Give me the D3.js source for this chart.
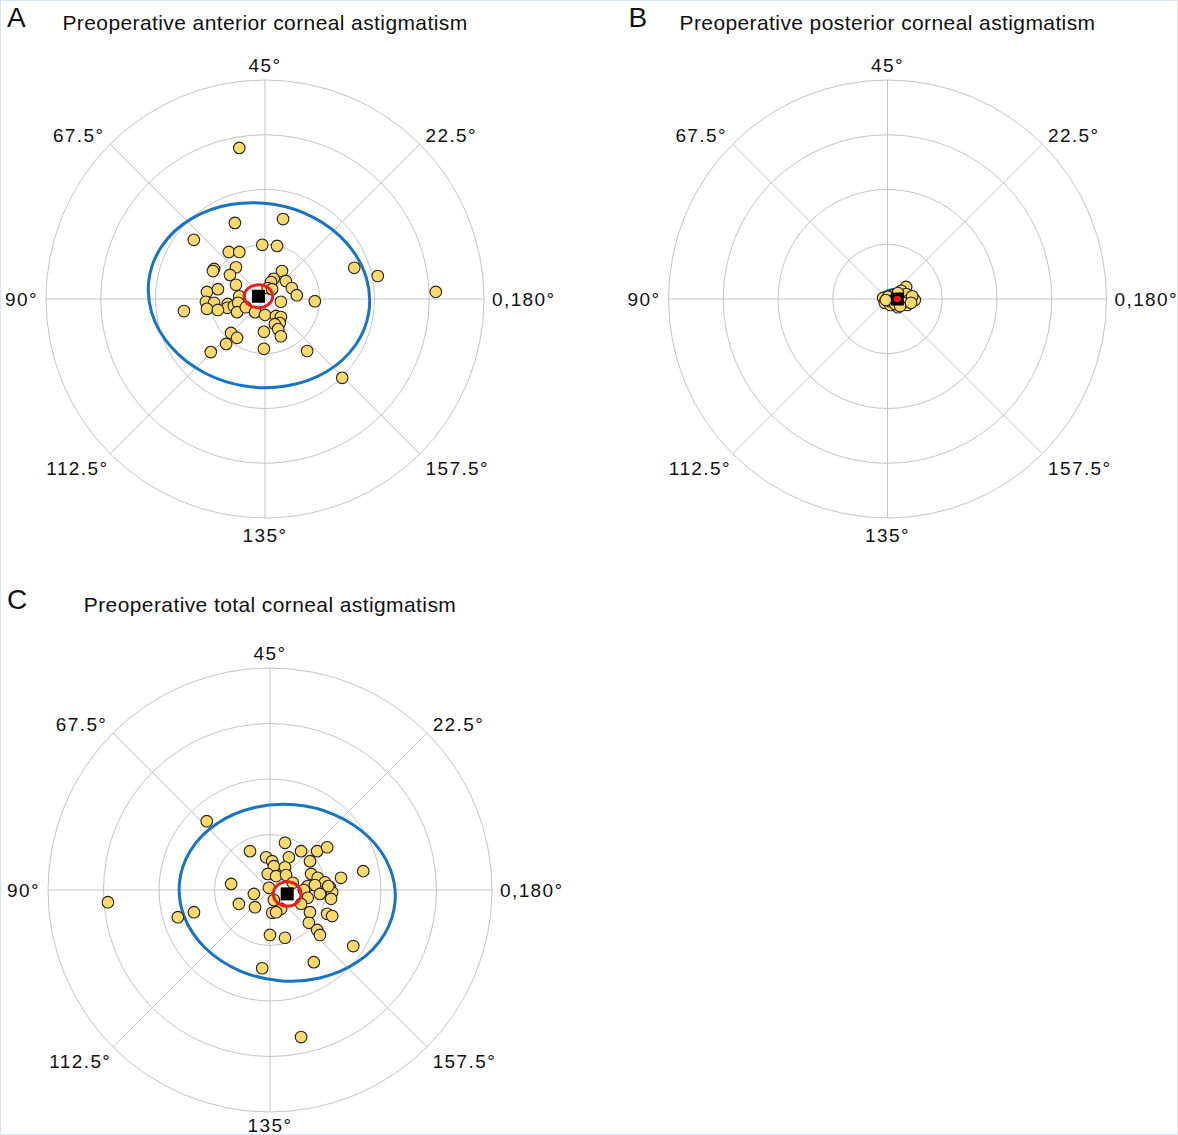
<!DOCTYPE html>
<html>
<head>
<meta charset="utf-8">
<script src="https://cdn.jsdelivr.net/npm/d3@7"></script>
<style>
  body { margin: 0; background: #fff; }
  text { font-family: "Liberation Sans", Arial, sans-serif; fill: #111; }
</style>
</head>
<body>
<div id="chart"></div>
<script>
var width = 1178,
    height = 1135;

// doubled-angle vectors, dioptres [x, y]
var anteriorPoints = [
  [-0.47, 2.76], [-0.55, 1.39], [0.33, 1.46], [-1.30, 1.08], [-0.05, 0.99], [0.22, 0.97],
  [-0.66, 0.86], [-0.47, 0.86], [-0.93, 0.55], [-0.95, 0.51], [-0.53, 0.58], [-0.64, 0.44],
  [0.31, 0.51], [0.16, 0.37], [0.11, 0.31], [0.38, 0.33], [-0.53, 0.26], [-1.06, 0.13],
  [-0.86, 0.18], [0.49, 0.20], [0.58, 0.07], [0.05, 0.20], [-0.47, 0.05], [-1.08, -0.05],
  [-0.93, -0.07], [-0.68, -0.09], [-0.69, -0.16], [-0.57, -0.13], [-0.49, -0.07], [-0.51, -0.24],
  [-1.06, -0.18], [-0.86, -0.20], [-0.35, -0.15], [-0.18, -0.24], [0.00, -0.29], [0.20, -0.31],
  [0.29, -0.05], [0.29, -0.33], [0.27, -0.44], [0.18, -0.46], [0.24, -0.55], [0.29, -0.68],
  [-0.02, -0.60], [-0.62, -0.62], [-0.51, -0.71], [-0.71, -0.82], [-0.99, -0.97], [-0.02, -0.91],
  [0.77, -0.95], [0.91, -0.04], [1.63, 0.57], [2.06, 0.42], [1.41, -1.44], [3.12, 0.13],
  [-1.48, -0.22], [0.13, 0.18]
];

var posteriorPoints = [
  [0.34, 0.22], [0.25, 0.15], [0.34, 0.09], [-0.08, 0.02], [-0.05, -0.07], [0.05, -0.11],
  [0.19, -0.15], [0.36, -0.11], [0.50, -0.02], [0.39, -0.02], [0.10, 0.07], [0.19, 0.11],
  [0.01, 0.04], [0.45, 0.05], [0.05, -0.04], [0.28, -0.07], [0.14, -0.09], [0.23, -0.13],
  [-0.03, -0.02], [0.43, -0.07]
];

var totalPoints = [
  [-1.14, 1.24], [0.27, 0.85], [-0.36, 0.70], [0.56, 0.70], [0.85, 0.70], [1.03, 0.77],
  [-0.07, 0.59], [0.04, 0.52], [0.34, 0.59], [0.72, 0.52], [0.07, 0.43], [0.27, 0.41],
  [-0.04, 0.29], [0.11, 0.25], [0.29, 0.27], [0.74, 0.29], [0.86, 0.22], [0.99, 0.14],
  [1.08, 0.05], [1.12, -0.04], [1.28, 0.22], [1.68, 0.34], [-0.70, 0.11], [-0.29, -0.07],
  [-0.02, 0.04], [0.41, 0.13], [0.68, 0.07], [0.81, 0.09], [1.05, 0.07], [0.61, 0.00],
  [0.90, -0.07], [1.10, -0.16], [0.68, -0.14], [0.56, -0.25], [-0.56, -0.25], [-0.27, -0.31],
  [0.07, -0.18], [0.20, -0.34], [0.04, -0.41], [0.11, -0.40], [0.72, -0.40], [1.03, -0.43],
  [1.12, -0.47], [0.70, -0.59], [0.85, -0.72], [0.90, -0.81], [0.00, -0.81], [0.27, -0.86],
  [1.50, -1.01], [0.79, -1.30], [-0.14, -1.41], [-1.37, -0.40], [-1.66, -0.49], [-2.92, -0.22],
  [0.56, -2.65]
];

// centroid [x, y]
var anteriorMean = [-0.12, 0.05],
    posteriorMean = [0.18, 0.00],
    totalMean = [0.31, -0.07];

// ellipses: [cx, cy, semi-axis a, semi-axis b, rotation deg]
var anteriorCentroidEllipse = [-0.12, 0.05, 0.26, 0.21, 0],
    anteriorDataEllipse = [-0.11, 0.07, 2.03, 1.68, -9];
var posteriorCentroidEllipse = [0.18, 0.00, 0.04, 0.03, 0],
    posteriorDataEllipse = [0.17, 0.02, 0.30, 0.16, 0];
var totalCentroidEllipse = [0.31, -0.07, 0.25, 0.22, 0],
    totalDataEllipse = [0.31, -0.05, 1.95, 1.59, -5];

var ringValues = [1, 2, 3, 4];
var axisLabels = ["0,180°", "22.5°", "45°", "67.5°", "90°", "112.5°", "135°", "157.5°"];

var svg = d3.select("#chart").append("svg")
    .attr("width", width)
    .attr("height", height);

svg.append("rect")
    .attr("x", 0.5).attr("y", 0.5)
    .attr("width", width - 1).attr("height", height - 1)
    .attr("fill", "#fff")
    .attr("stroke", "#d5e5f4");

function drawPanel(letter, title, cx, cy, R, headY, points, mean, ciEllipse, dataEllipse) {
    var g = svg.append("g");

    var r = d3.scaleLinear().domain([0, 4]).range([0, R]);
    var x = d3.scaleLinear().domain([-4, 4]).range([cx - R, cx + R]);
    var y = d3.scaleLinear().domain([-4, 4]).range([cy + R, cy - R]);

    g.append("text")
        .attr("x", letter === "B" ? cx - 259 : 7)
        .attr("y", headY - 3)
        .style("font-size", "28px")
        .text(letter);

    g.append("text")
        .attr("x", cx)
        .attr("y", headY)
        .style("text-anchor", "middle")
        .style("font-size", "21px")
        .style("letter-spacing", "0.4px")
        .text(title);

    g.selectAll(".ring")
        .data(ringValues)
        .enter().append("circle")
        .attr("class", "ring")
        .attr("cx", cx).attr("cy", cy)
        .attr("r", function(d) { return r(d); })
        .attr("fill", "none")
        .attr("stroke", "#c4c4c4");

    g.selectAll(".spoke")
        .data(axisLabels)
        .enter().append("line")
        .attr("class", "spoke")
        .attr("x1", cx).attr("y1", cy)
        .attr("x2", function(d, i) { return cx + r(4) * Math.cos(i * Math.PI / 4); })
        .attr("y2", function(d, i) { return cy - r(4) * Math.sin(i * Math.PI / 4); })
        .attr("stroke", "#c4c4c4");

    g.selectAll(".axis-label")
        .data(axisLabels)
        .enter().append("text")
        .attr("class", "axis-label")
        .attr("x", function(d, i) {
            var c = Math.cos(i * Math.PI / 4);
            return cx + (R + 8) * c + (i === 5 ? 4 : 0);
        })
        .attr("y", function(d, i) {
            var s = Math.sin(i * Math.PI / 4);
            var yy = cy - (R + 8) * s;
            if (s < -0.1) yy += 15.5;
            else if (s > 0.9) yy += 0;
            else if (s > 0.1) yy += 3.8;
            else yy += 6.6;
            return Math.min(yy, height - 3);
        })
        .style("text-anchor", function(d, i) {
            var c = Math.cos(i * Math.PI / 4);
            return c > 0.1 ? "start" : (c < -0.1 ? "end" : "middle");
        })
        .style("font-size", "19px")
        .style("letter-spacing", "1.4px")
        .text(function(d) { return d; });

    g.append("ellipse")
        .attr("transform", "translate(" + x(dataEllipse[0]) + "," + y(dataEllipse[1]) + ") rotate(" + (-dataEllipse[4]) + ")")
        .attr("rx", r(dataEllipse[2]))
        .attr("ry", r(dataEllipse[3]))
        .attr("fill", "none")
        .attr("stroke", "#1673c5")
        .attr("stroke-width", 3);

    g.selectAll(".point")
        .data(points)
        .enter().append("circle")
        .attr("class", "point")
        .attr("cx", function(d) { return x(d[0]); })
        .attr("cy", function(d) { return y(d[1]); })
        .attr("r", 5.8)
        .attr("fill", "#fdd86b")
        .attr("stroke", "#222")
        .attr("stroke-width", 1.1);

    g.append("rect")
        .attr("x", x(mean[0]) - 6.5)
        .attr("y", y(mean[1]) - 6.5)
        .attr("width", 13)
        .attr("height", 13)
        .attr("fill", "#000");

    g.append("ellipse")
        .attr("transform", "translate(" + x(ciEllipse[0]) + "," + y(ciEllipse[1]) + ") rotate(" + (-ciEllipse[4]) + ")")
        .attr("rx", r(ciEllipse[2]))
        .attr("ry", r(ciEllipse[3]))
        .attr("fill", "none")
        .attr("stroke", "#ee1b1b")
        .attr("stroke-width", 3);
}

drawPanel("A", "Preoperative anterior corneal astigmatism", 265, 299, 219, 30,
    anteriorPoints, anteriorMean, anteriorCentroidEllipse, anteriorDataEllipse);
drawPanel("B", "Preoperative posterior corneal astigmatism", 887.5, 299, 219, 30,
    posteriorPoints, posteriorMean, posteriorCentroidEllipse, posteriorDataEllipse);
drawPanel("C", "Preoperative total corneal astigmatism", 270, 890, 222, 612,
    totalPoints, totalMean, totalCentroidEllipse, totalDataEllipse);
</script>
</body>
</html>
